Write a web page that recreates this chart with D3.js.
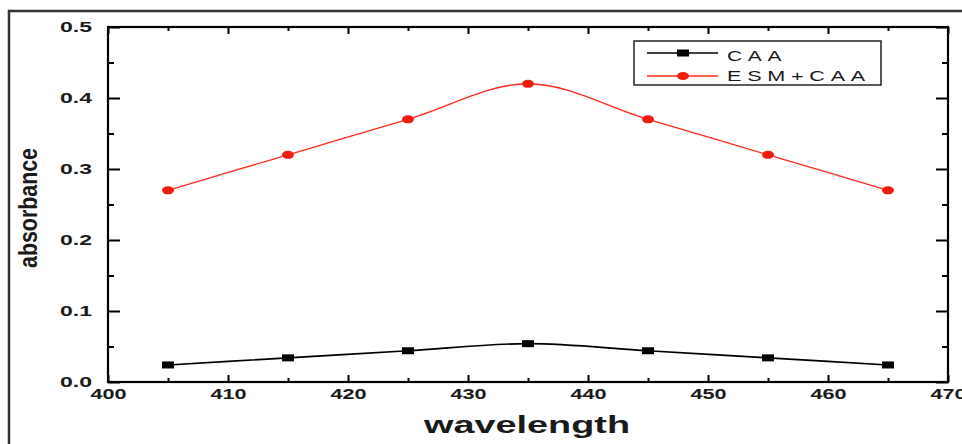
<!DOCTYPE html>
<head>
  <meta charset="utf-8">
  <script src="https://cdn.jsdelivr.net/npm/d3@7/dist/d3.min.js"></script>
  <style>
    body { margin:0; background:#fff; }
    text { font-family: "Liberation Sans", Arial, sans-serif; }
  </style>
</head>
<body>
  <script>
    // data
    var wavelength = [405, 415, 425, 435, 445, 455, 465];
    var caa        = [0.024, 0.034, 0.044, 0.054, 0.044, 0.034, 0.024];
    var esmCaa     = [0.27, 0.32, 0.37, 0.42, 0.37, 0.32, 0.27];
    var xTicks = [400, 410, 420, 430, 440, 450, 460, 470];
    var yTicks = [0.0, 0.1, 0.2, 0.3, 0.4, 0.5];
    var seriesNames = ["CAA", "ESM+CAA"];

    var width = 962, height = 444;
    var m = { left: 108, right: 14, top: 27, bottom: 62 };

    var svg = d3.select("body").append("svg")
      .attr("width", width)
      .attr("height", height);

    // outer frame (only top and left show)
    svg.append("path")
      .attr("d", "M9,470V11H970")
      .attr("fill", "none")
      .attr("stroke", "#333")
      .attr("stroke-width", 2.5);

    var x = d3.scaleLinear().domain([400, 470]).range([m.left, width - m.right]);
    var y = d3.scaleLinear().domain([0, 0.5]).range([height - m.bottom, m.top]);

    var minorX = d3.range(405, 470, 10);
    var minorY = d3.range(0.05, 0.5, 0.1);

    // frame axes, ticks point inside
    function axisGroup(axis, tx, ty) {
      var g = svg.append("g").attr("transform", "translate(" + tx + "," + ty + ")").call(axis);
      g.select(".domain").remove();
      g.selectAll("line").attr("stroke", "#000").attr("stroke-width", 2);
      return g;
    }

    // the original picture is stretched sideways, so labels get a fixed length
    function wideLabels(g, len) {
      g.selectAll("text")
        .attr("font-size", 15).attr("font-weight", "bold").attr("fill", "#1a1a1a")
        .attr("textLength", len).attr("lengthAdjust", "spacingAndGlyphs");
    }

    var bottom = axisGroup(d3.axisBottom(x).tickValues(xTicks).tickSizeInner(-7).tickSizeOuter(0).tickPadding(6), 0, y(0));
    wideLabels(bottom, 36);
    axisGroup(d3.axisBottom(x).tickValues(minorX).tickSizeInner(-4).tickSizeOuter(0).tickFormat(""), 0, y(0));
    axisGroup(d3.axisTop(x).tickValues(xTicks).tickSizeInner(-7).tickSizeOuter(0).tickFormat(""), 0, y(0.5));
    axisGroup(d3.axisTop(x).tickValues(minorX).tickSizeInner(-4).tickSizeOuter(0).tickFormat(""), 0, y(0.5));

    var left = axisGroup(d3.axisLeft(y).tickValues(yTicks).tickSizeInner(-12).tickSizeOuter(0).tickPadding(16).tickFormat(d3.format(".1f")), m.left, 0);
    wideLabels(left, 32);
    axisGroup(d3.axisLeft(y).tickValues(minorY).tickSizeInner(-6).tickSizeOuter(0).tickFormat(""), m.left, 0);
    axisGroup(d3.axisRight(y).tickValues(yTicks).tickSizeInner(-12).tickSizeOuter(0).tickFormat(""), width - m.right, 0);
    axisGroup(d3.axisRight(y).tickValues(minorY).tickSizeInner(-6).tickSizeOuter(0).tickFormat(""), width - m.right, 0);

    // box
    svg.append("rect")
      .attr("x", x(400)).attr("y", y(0.5))
      .attr("width", x(470) - x(400)).attr("height", y(0) - y(0.5))
      .attr("fill", "none").attr("stroke", "#000").attr("stroke-width", 2.2);

    var line = d3.line()
      .x(function(d) { return x(d[0]); })
      .y(function(d) { return y(d[1]); })
      .curve(d3.curveMonotoneX);

    var blackPts = wavelength.map(function(w, i) { return [w, caa[i]]; });
    var redPts = wavelength.map(function(w, i) { return [w, esmCaa[i]]; });

    svg.append("path").datum(blackPts).attr("d", line)
      .attr("fill", "none").attr("stroke", "#000").attr("stroke-width", 1.6);
    svg.append("path").datum(redPts).attr("d", line)
      .attr("fill", "none").attr("stroke", "#ff2a1a").attr("stroke-width", 1.4);

    svg.selectAll(".sq").data(blackPts).enter().append("rect")
      .attr("x", function(d) { return x(d[0]) - 6; })
      .attr("y", function(d) { return y(d[1]) - 3.5; })
      .attr("width", 12).attr("height", 7).attr("fill", "#000");
    svg.selectAll(".dot").data(redPts).enter().append("ellipse")
      .attr("cx", function(d) { return x(d[0]); })
      .attr("cy", function(d) { return y(d[1]); })
      .attr("rx", 6).attr("ry", 4).attr("fill", "#f01c10");

    // legend
    var lg = svg.append("g");
    lg.append("rect").attr("x", 634).attr("y", 41).attr("width", 247).attr("height", 44)
      .attr("fill", "#fff").attr("stroke", "#222").attr("stroke-width", 1.5);
    lg.append("line").attr("x1", 647).attr("x2", 718).attr("y1", 53).attr("y2", 53)
      .attr("stroke", "#000").attr("stroke-width", 1.6);
    lg.append("rect").attr("x", 677).attr("y", 49.5).attr("width", 12).attr("height", 7).attr("fill", "#000");
    lg.append("line").attr("x1", 647).attr("x2", 718).attr("y1", 76).attr("y2", 76)
      .attr("stroke", "#ff2a1a").attr("stroke-width", 1.4);
    lg.append("ellipse").attr("cx", 683).attr("cy", 76).attr("rx", 6).attr("ry", 4).attr("fill", "#f01c10");
    var legendLen = [60, 144];
    lg.selectAll(".lt").data(seriesNames).enter().append("text")
      .attr("x", 727).attr("y", function(d, i) { return 60.5 + i * 20; })
      .attr("font-size", 15).attr("letter-spacing", 4).attr("fill", "#1a1a1a")
      .attr("textLength", function(d, i) { return legendLen[i]; })
      .attr("lengthAdjust", "spacingAndGlyphs")
      .text(function(d) { return d; });

    // axis titles
    svg.append("text")
      .attr("x", 527).attr("y", 433)
      .attr("text-anchor", "middle")
      .attr("font-size", 23).attr("font-weight", "bold")
      .attr("textLength", 206).attr("lengthAdjust", "spacingAndGlyphs")
      .attr("fill", "#1a1a1a")
      .text("wavelength");

    svg.append("text")
      .attr("transform", "translate(37,208) rotate(-90)")
      .attr("text-anchor", "middle")
      .attr("font-size", 26).attr("font-weight", "bold")
      .attr("textLength", 120).attr("lengthAdjust", "spacingAndGlyphs")
      .attr("fill", "#1a1a1a")
      .text("absorbance");
  </script>
</body>
